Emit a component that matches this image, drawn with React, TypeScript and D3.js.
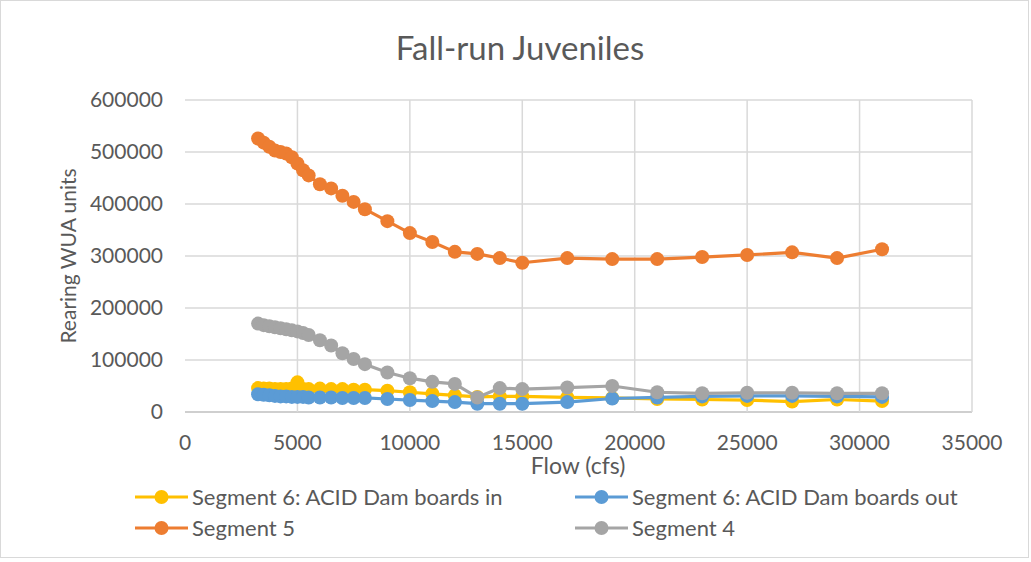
import React from "react";
import * as d3 from "d3";

const flows = [3250, 3500, 3750, 4000, 4250, 4500, 4750, 5000, 5250, 5500, 6000, 6500, 7000, 7500, 8000, 9000, 10000, 11000, 12000, 13000, 14000, 15000, 17000, 19000, 21000, 23000, 25000, 27000, 29000, 31000];

const seg6In = [46000, 45000, 45000, 44000, 44000, 44000, 45000, 57000, 44000, 44000, 45000, 44000, 44000, 43000, 43000, 41000, 38000, 35000, 32000, 29000, 30000, 30000, 28000, 27000, 25000, 24000, 23000, 20000, 24000, 21000];
const seg6Out = [34000, 33000, 32000, 31000, 30000, 30000, 29000, 29000, 29000, 28000, 28000, 28000, 27000, 27000, 27000, 25000, 23000, 21000, 19000, 16000, 16000, 16000, 19000, 26000, 28000, 30000, 31000, 31000, 30000, 29000];
const seg5 = [526000, 518000, 510000, 503000, 500000, 497000, 490000, 478000, 465000, 455000, 438000, 430000, 416000, 404000, 390000, 367000, 344000, 327000, 308000, 304000, 296000, 287000, 296000, 294000, 294000, 298000, 302000, 307000, 296000, 313000];
const seg4 = [170000, 167000, 165000, 163000, 161000, 159000, 157000, 155000, 152000, 148000, 138000, 128000, 113000, 102000, 92000, 76000, 65000, 58000, 54000, 28000, 46000, 44000, 47000, 50000, 38000, 36000, 37000, 37000, 36000, 36000];

const seriesNames = ["Segment 6: ACID Dam boards in", "Segment 6: ACID Dam boards out", "Segment 5", "Segment 4"];
const seriesColors = ["#FFC000", "#5B9BD5", "#ED7D31", "#A5A5A5"];
const seriesValues = [seg6In, seg6Out, seg5, seg4];

const xTicks = [0, 5000, 10000, 15000, 20000, 25000, 30000, 35000];
const yTicks = [0, 100000, 200000, 300000, 400000, 500000, 600000];

const title = "Fall-run Juveniles";
const xTitle = "Flow (cfs)";
const yTitle = "Rearing WUA units";

export default function App() {
  const W = 1031, H = 562;
  const left = 185, right = 972, top = 100, bottom = 412;
  const x = d3.scaleLinear().domain([0, 35000]).range([left, right]);
  const y = d3.scaleLinear().domain([0, 600000]).range([bottom, top]);
  const line = d3.line<[number, number]>().x(d => x(d[0])).y(d => y(d[1]));
  const font = "Lato, 'Open Sans', sans-serif";
  const textColor = "#595959";

  const legendItems = [
    { i: 0, lx: 135, ly: 497 },
    { i: 1, lx: 575, ly: 497 },
    { i: 2, lx: 135, ly: 528 },
    { i: 3, lx: 575, ly: 528 },
  ];

  return (
    <div style={{ position: "absolute", left: 0, top: 0 }}>
      <svg width={W} height={H} style={{ display: "block", background: "#fff" }}>
        <rect x={0.5} y={0.5} width={1028} height={557} fill="#fff" stroke="#d9d9d9" strokeWidth={1} />
        <text x={520} y={60} textAnchor="middle" fontFamily={font} fontSize={33} fill={textColor}>{title}</text>
        {yTicks.map(t => (
          <line key={"gy" + t} x1={left} x2={right} y1={y(t)} y2={y(t)} stroke={t === 0 ? "#bfbfbf" : "#d9d9d9"} strokeWidth={1.5} />
        ))}
        {xTicks.filter(t => t > 0).map(t => (
          <line key={"gx" + t} x1={x(t)} x2={x(t)} y1={top} y2={bottom} stroke="#d9d9d9" strokeWidth={1.5} />
        ))}
        {yTicks.map(t => (
          <text key={"ty" + t} x={163} y={y(t)} dy="0.35em" textAnchor="end" fontFamily={font} fontSize={21} fill={textColor}>{t}</text>
        ))}
        {xTicks.map(t => (
          <text key={"tx" + t} x={x(t)} y={450} textAnchor="middle" fontFamily={font} fontSize={21} fill={textColor}>{t}</text>
        ))}
        <text x={578} y={474} textAnchor="middle" fontFamily={font} fontSize={23} fill={textColor}>{xTitle}</text>
        <text transform={`translate(76,${(top + bottom) / 2}) rotate(-90)`} textAnchor="middle" fontFamily={font} fontSize={21} fill={textColor}>{yTitle}</text>
        {seriesValues.map((vals, si) => {
          const pts: [number, number][] = flows.map((f, k) => [f, vals[k]]);
          return (
            <g key={"s" + si}>
              <path d={line(pts) || ""} fill="none" stroke={seriesColors[si]} strokeWidth={3.2} strokeLinejoin="round" />
              {pts.map((p, k) => (
                <circle key={k} cx={x(p[0])} cy={y(p[1])} r={7} fill={seriesColors[si]} />
              ))}
            </g>
          );
        })}
        {legendItems.map(({ i, lx, ly }) => (
          <g key={"l" + i}>
            <line x1={lx} x2={lx + 53} y1={ly} y2={ly} stroke={seriesColors[i]} strokeWidth={3.2} />
            <circle cx={lx + 26.5} cy={ly} r={7} fill={seriesColors[i]} />
            <text x={lx + 57} y={ly} dy="0.35em" fontFamily={font} fontSize={22} fill={textColor}>{seriesNames[i]}</text>
          </g>
        ))}
      </svg>
    </div>
  );
}
